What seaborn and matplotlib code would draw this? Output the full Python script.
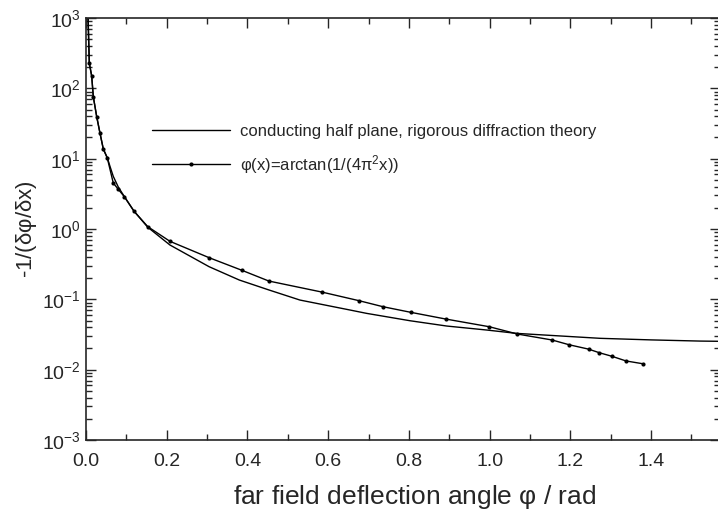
import numpy as np
import pandas as pd
import seaborn as sns
import matplotlib.pyplot as plt
from matplotlib.ticker import LogLocator, MultipleLocator, NullFormatter

# rigorous diffraction theory (solid curve)
phi_rig = [0.004, 0.005, 0.0082, 0.0141, 0.0181, 0.0265, 0.0347, 0.0429, 0.0528, 0.060,
           0.0676, 0.080, 0.0949, 0.119, 0.153, 0.208, 0.305, 0.380, 0.453, 0.530,
           0.654, 0.695, 0.803, 0.894, 0.993, 1.067, 1.274, 1.400, 1.521, 1.571]
val_rig = [1500, 1000, 227, 150, 76, 39.6, 23, 13.7, 10.3, 7.6,
           5.6, 3.95, 2.9, 1.79, 1.06, 0.592, 0.291, 0.188, 0.136, 0.0977,
           0.0705, 0.0632, 0.0496, 0.0417, 0.0366, 0.0328, 0.0279, 0.0265, 0.0255, 0.0253]

# arctan model (line with dots)
phi_mod = [0.0045, 0.0082, 0.0141, 0.0181, 0.0265, 0.0347, 0.0429, 0.0528, 0.0676, 0.080,
           0.0949, 0.119, 0.153, 0.208, 0.305, 0.386, 0.453, 0.584, 0.677, 0.736,
           0.805, 0.891, 0.999, 1.069, 1.155, 1.197, 1.245, 1.272, 1.303, 1.338, 1.381]
val_mod = [1500, 227, 150, 76, 39.6, 23, 13.7, 10.2, 4.5, 3.67,
           2.88, 1.79, 1.08, 0.668, 0.391, 0.259, 0.182, 0.127, 0.0955, 0.0785,
           0.0653, 0.0525, 0.0408, 0.0321, 0.0264, 0.0226, 0.0196, 0.0174, 0.0155, 0.0133, 0.0121]

lbl_rig = "conducting half plane, rigorous diffraction theory"
lbl_mod = r"$\mathregular{\varphi}$(x)=arctan(1/(4$\mathregular{\pi^2}$x))"

sns.set_style("ticks")
plt.rcParams['font.family'] = ['Liberation Sans', 'DejaVu Sans']
plt.rcParams['mathtext.fontset'] = 'custom'
plt.rcParams['mathtext.rm'] = 'Liberation Sans'
plt.rcParams['mathtext.it'] = 'Liberation Sans:italic'

df_rig = pd.DataFrame({'phi': phi_rig, 'val': val_rig})
df_mod = pd.DataFrame({'phi': phi_mod, 'val': val_mod})

fig = plt.figure(figsize=(7.18, 5.15), dpi=100)
ax = fig.add_axes([86/718, 75/515, 634/718, 422/515])

sns.lineplot(data=df_rig, x='phi', y='val', ax=ax, color='k', lw=1.0,
             sort=False, estimator=None, label=lbl_rig)
sns.lineplot(data=df_mod, x='phi', y='val', ax=ax, color='k', lw=1.0,
             marker='o', markersize=3, markeredgewidth=0,
             sort=False, estimator=None, label=lbl_mod)

ax.set_yscale('log')
ax.set_xlim(0, 1.5708)
ax.set_ylim(1e-3, 1e3)
ax.xaxis.set_major_locator(MultipleLocator(0.2))
ax.xaxis.set_minor_locator(MultipleLocator(0.1))
ax.yaxis.set_major_locator(LogLocator(base=10, numticks=10))
ax.yaxis.set_minor_locator(LogLocator(base=10, subs=np.arange(2, 10), numticks=20))
ax.yaxis.set_minor_formatter(NullFormatter())
ax.xaxis.set_major_formatter(plt.FuncFormatter(lambda v, p: f"{v:.1f}"))

ax.tick_params(which='both', direction='in', top=True, right=True, labelsize=14, width=1)
ax.tick_params(which='major', length=7)
ax.tick_params(which='minor', length=4)
ax.tick_params(axis='x', pad=9)
ax.tick_params(axis='y', pad=4)
for s in ax.spines.values():
    s.set_linewidth(1.2)

ax.set_xlabel(r"far field deflection angle $\mathregular{\varphi}$ / rad", fontsize=19)
ax.xaxis.set_label_coords(0.519, -0.103)
ax.set_ylabel(r"-1/($\mathregular{\delta\varphi/\delta}$x)", fontsize=16, labelpad=2)

ax.legend(loc='upper left', bbox_to_anchor=(0.08, 0.785), frameon=False, fontsize=12,
          handlelength=4.7, handletextpad=0.6, labelspacing=0.85)

fig.savefig('out.png', dpi=100)
